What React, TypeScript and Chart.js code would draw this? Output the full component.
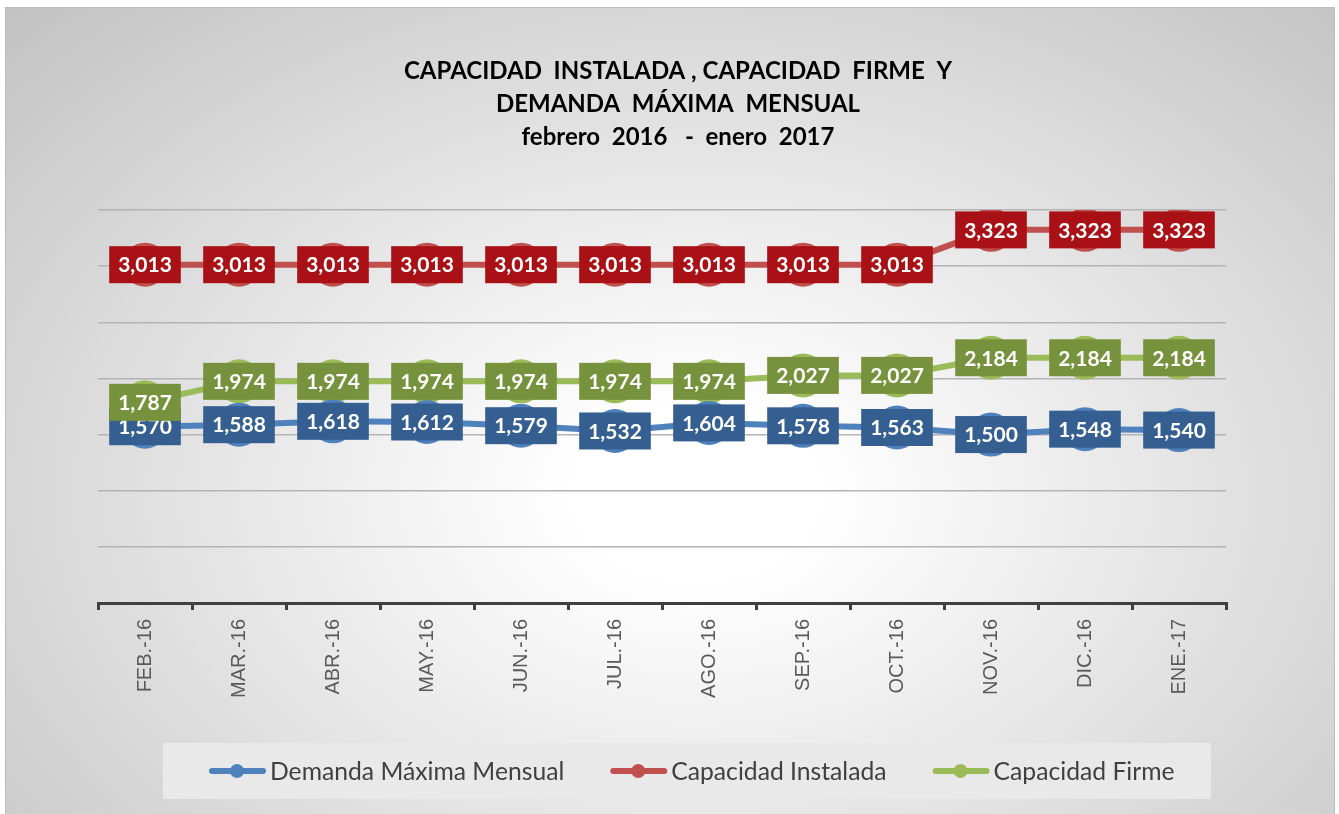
import React, { useEffect, useRef } from "react";
import { Chart, registerables } from "chart.js";

Chart.register(...registerables);

const categories = [
  "FEB.-16", "MAR.-16", "ABR.-16", "MAY.-16", "JUN.-16", "JUL.-16",
  "AGO.-16", "SEP.-16", "OCT.-16", "NOV.-16", "DIC.-16", "ENE.-17",
];
const demandaMaxima = [1570, 1588, 1618, 1612, 1579, 1532, 1604, 1578, 1563, 1500, 1548, 1540];
const capacidadInstalada = [3013, 3013, 3013, 3013, 3013, 3013, 3013, 3013, 3013, 3323, 3323, 3323];
const capacidadFirme = [1787, 1974, 1974, 1974, 1974, 1974, 1974, 2027, 2027, 2184, 2184, 2184];
const seriesNames = ["Demanda Máxima Mensual", "Capacidad Instalada", "Capacidad Firme"];
const titleLines = [
  "CAPACIDAD  INSTALADA , CAPACIDAD  FIRME  Y",
  "DEMANDA  MÁXIMA  MENSUAL",
  "febrero  2016   -  enero  2017",
];

const lineColors = ["#4F81BD", "#C0504D", "#9BBB59"];
const labelColors = ["#365F91", "#A91117", "#76923C"];

const labelPlugin = {
  id: "boxLabels",
  afterDatasetsDraw(chart: any) {
    const ctx = chart.ctx;
    ctx.save();
    ctx.font = "bold 21px Lato";
    ctx.textAlign = "center";
    ctx.textBaseline = "middle";
    chart.data.datasets.forEach((ds: any, i: number) => {
      const meta = chart.getDatasetMeta(i);
      meta.data.forEach((pt: any, j: number) => {
        const txt = Number(ds.data[j]).toLocaleString("en-US");
        const w = ctx.measureText(txt).width + 18;
        const h = 37;
        ctx.fillStyle = labelColors[i];
        ctx.fillRect(pt.x - w / 2, pt.y - h / 2, w, h);
        ctx.fillStyle = "#ffffff";
        ctx.fillText(txt, pt.x, pt.y + 1);
      });
    });
    ctx.restore();
  },
};

const decorPlugin = {
  id: "decor",
  afterDraw(chart: any) {
    const ctx = chart.ctx;
    ctx.save();
    // title
    ctx.fillStyle = "#000000";
    ctx.font = "bold 24px Lato";
    ctx.textAlign = "center";
    ctx.textBaseline = "middle";
    const ys = [71, 104, 137];
    titleLines.forEach((t, i) => ctx.fillText(t, 678, ys[i]));
    // legend
    ctx.fillStyle = "#e9e9e9";
    ctx.fillRect(163, 743, 1048, 56);
    ctx.font = "24.7px Lato";
    ctx.textAlign = "left";
    let x = 209;
    const cy = 771;
    chart.data.datasets.forEach((ds: any, i: number) => {
      ctx.strokeStyle = lineColors[i];
      ctx.lineWidth = 6;
      ctx.lineCap = "round";
      ctx.beginPath();
      ctx.moveTo(x + 3, cy);
      ctx.lineTo(x + 54, cy);
      ctx.stroke();
      ctx.fillStyle = lineColors[i];
      ctx.beginPath();
      ctx.arc(x + 28, cy, 7, 0, Math.PI * 2);
      ctx.fill();
      ctx.fillStyle = "#404040";
      ctx.fillText(ds.label, x + 61, cy + 1);
      x += 61 + ctx.measureText(ds.label).width + 46;
    });
    ctx.restore();
  },
};

export default function App() {
  const ref = useRef<HTMLCanvasElement | null>(null);
  useEffect(() => {
    if (!ref.current) return;
    const values = [demandaMaxima, capacidadInstalada, capacidadFirme];
    const chart = new Chart(ref.current, {
      type: "line",
      data: {
        labels: categories,
        datasets: values.map((d, i) => ({
          label: seriesNames[i],
          data: d,
          borderColor: lineColors[i],
          backgroundColor: lineColors[i],
          borderWidth: 6,
          pointRadius: 22,
          pointHoverRadius: 22,
          pointBackgroundColor: lineColors[i],
          pointBorderWidth: 0,
          tension: 0,
          fill: false,
        })),
      },
      options: {
        animation: false,
        responsive: false,
        maintainAspectRatio: false,
        layout: { padding: { top: 210, left: 98, right: 113, bottom: 0 } },
        plugins: {
          legend: { display: false },
          title: { display: false },
          tooltip: { enabled: false },
        },
        scales: {
          x: {
            offset: true,
            grid: {
              offset: true,
              drawOnChartArea: false,
              drawTicks: true,
              tickLength: 7,
              color: "#404040",
              lineWidth: 3,
            },
            border: { display: true, color: "#404040", width: 3 },
            ticks: {
              maxRotation: 90,
              minRotation: 90,
              padding: 9,
              color: "#595959",
              font: { family: "'Liberation Sans', Arial", size: 20 },
            },
            afterFit: (scale: any) => {
              scale.height = 211;
            },
          },
          y: {
            min: 0,
            max: 3500,
            ticks: { stepSize: 500, display: false },
            grid: {
              color: (c: any) => (c.tick && c.tick.value === 0 ? "rgba(0,0,0,0)" : "#b4b4b4"),
              lineWidth: 1.5,
              drawTicks: false,
            },
            border: { display: false },
            afterFit: (scale: any) => {
              scale.width = 0;
            },
          },
        },
      },
      plugins: [labelPlugin, decorPlugin],
    });
    return () => chart.destroy();
  }, []);

  return (
    <div style={{ position: "fixed", left: 0, top: 0, width: 1339, height: 814, background: "#ffffff" }}>
      <div
        style={{
          position: "absolute",
          left: 5,
          top: 7,
          width: 1328,
          height: 810,
          border: "1px solid #bcbcbc",
          background: "radial-gradient(ellipse at 52% 60%, #ffffff 0%, #ffffff 12%, #c2c2c2 100%)",
        }}
      />
      <canvas ref={ref} width={1339} height={814} style={{ position: "absolute", left: 0, top: 0 }} />
    </div>
  );
}
